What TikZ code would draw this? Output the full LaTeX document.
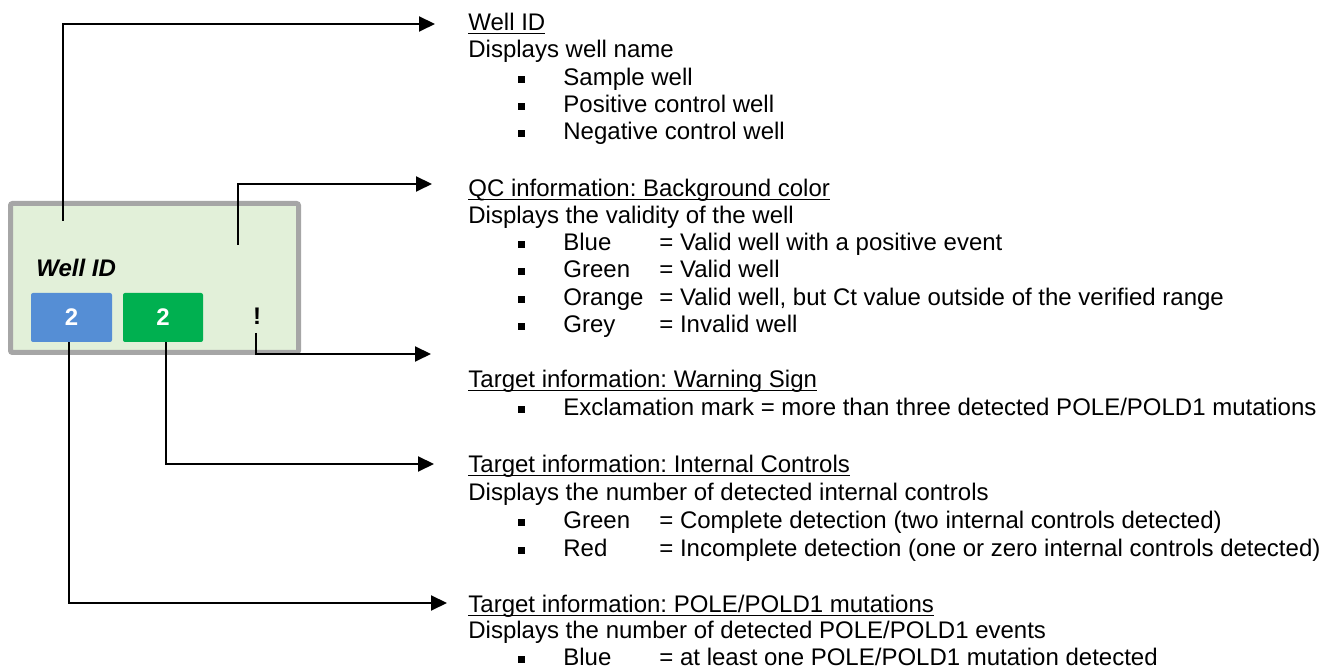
\documentclass[tikz,border=0pt]{standalone}
\usepackage{fontspec}
\setmainfont{Liberation Sans}
\usepackage{xcolor}
\usetikzlibrary{arrows.meta, positioning}

\definecolor{wellfill}{HTML}{E2F0D9}
\definecolor{wellrim}{HTML}{A6A6A6}
\definecolor{evtblue}{HTML}{558ED5}
\definecolor{ctrlgreen}{HTML}{00B050}

\newcommand{\hdr}[1]{\underline{\smash{#1}}}
\newcommand{\bulsq}{\raisebox{1.5pt}{\rule{3.25pt}{3.25pt}}\hspace{19.25pt}}
\newcommand{\lbl}[1]{\makebox[48pt][l]{#1}}

\tikzset{
  txt/.style={anchor=base west, inner sep=0pt, font=\fontsize{12}{14}\selectfont},
  conn/.style={line width=1pt, -{Triangle[length=8pt,width=7.5pt]}},
  cnt/.style={rounded corners=1pt, minimum width=40.5pt, minimum height=24.5pt,
    inner sep=0pt, text=white, font=\fontsize{12}{14}\selectfont\bfseries}
}

\begin{document}
\frenchspacing
\begin{tikzpicture}[x=0.5pt, y=-0.5pt]
    \useasboundingbox (0,0) rectangle (1322,672);

    % Draw the well
    \node[draw=wellrim, line width=2.5pt, fill=wellfill, rounded corners=1pt,
      minimum width=144pt, minimum height=74.5pt, inner sep=0pt] (well) at (154.5,278) {};
    \node[txt, font=\fontsize{12}{14}\selectfont\bfseries\itshape] (wellname) at (36,277) {Well ID};
    \node[cnt, fill=evtblue] (blue) at (71.5,317.5) {2};
    \node[cnt, fill=ctrlgreen, minimum width=40pt] (green) at (163,317.5) {2};
    \node[inner sep=0pt, font=\fontsize{12}{14}\selectfont\bfseries] (excl) at (257,316) {!};

    % Free ends of the connectors
    \coordinate (idFrom) at (63,221);
    \coordinate (qcFrom) at (238,245);
    \coordinate (warnFrom) at (256,333);
    \coordinate (idTip) at (435,24);
    \coordinate (qcTip) at (432,184);
    \coordinate (warnTip) at (431,354);
    \coordinate (ctrlTip) at (434,464);
    \coordinate (poleTip) at (447,603);

    % Draw connectors
    \draw[conn] (idFrom) |- (idTip);
    \draw[conn] (qcFrom) |- (qcTip);
    \draw[conn] (warnFrom) |- (warnTip);
    \draw[conn] ([xshift=1.5pt]green.south) |- (ctrlTip);
    \draw[conn] ([xshift=-1.25pt]blue.south) |- (poleTip);

    % Well ID
    \node[txt] (idHead) at (468,31) {\hdr{Well ID}};
    \node[txt] (idText) at (468,58) {Displays well name};
    \node[txt] (idA) at (518,86) {\bulsq Sample well};
    \node[txt] (idB) at (518,113) {\bulsq Positive control well};
    \node[txt] (idC) at (518,140) {\bulsq Negative control well};

    % QC information
    \node[txt] (qcHead) at (468,197) {\hdr{QC information: Background color}};
    \node[txt] (qcText) at (468,224) {Displays the validity of the well};
    \node[txt] (qcA) at (518,251) {\bulsq\lbl{Blue}= Valid well with a positive event};
    \node[txt] (qcB) at (518,278) {\bulsq\lbl{Green}= Valid well};
    \node[txt] (qcC) at (518,306) {\bulsq\lbl{Orange}= Valid well, but Ct value outside of the verified range};
    \node[txt] (qcD) at (518,333) {\bulsq\lbl{Grey}= Invalid well};

    % Warning sign
    \node[txt] (warnHead) at (468,388) {\hdr{Target information: Warning Sign}};
    \node[txt] (warnA) at (518,416) {\bulsq Exclamation mark = more than three detected POLE/POLD1 mutations};

    % Internal controls
    \node[txt] (ctrlHead) at (468,473) {\hdr{Target information: Internal Controls}};
    \node[txt] (ctrlText) at (468,501) {Displays the number of detected internal controls};
    \node[txt] (ctrlA) at (518,529) {\bulsq\lbl{Green}= Complete detection (two internal controls detected)};
    \node[txt] (ctrlB) at (518,557) {\bulsq\lbl{Red}= Incomplete detection (one or zero internal controls detected)};

    % POLE/POLD1 mutations
    \node[txt] (poleHead) at (468,613) {\hdr{Target information: POLE/POLD1 mutations}};
    \node[txt] (poleText) at (468,639) {Displays the number of detected POLE/POLD1 events};
    \node[txt] (poleA) at (518,666) {\bulsq\lbl{Blue}= at least one POLE/POLD1 mutation detected};
\end{tikzpicture}
\end{document}
